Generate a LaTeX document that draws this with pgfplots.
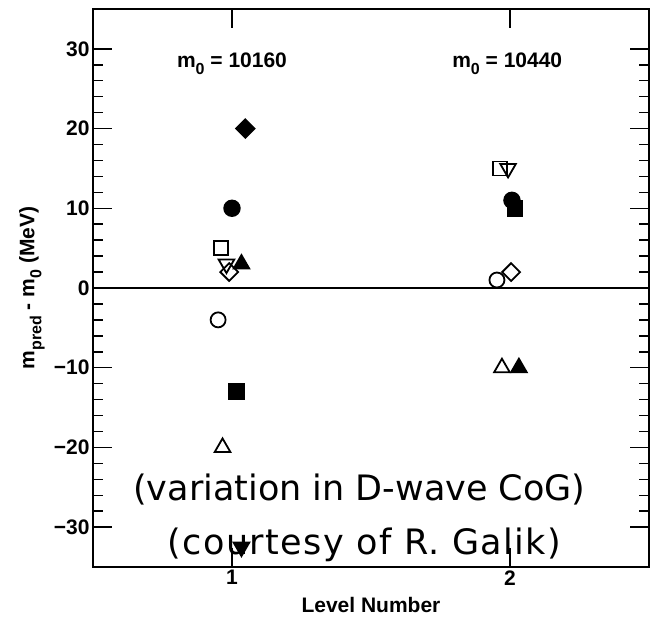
\documentclass[border=0pt]{standalone}
\usepackage{pgfplots}
\pgfplotsset{compat=1.18}
\usepackage{fontspec}
\setmainfont{Liberation Sans}
\newfontfamily\bigfont{DejaVu Sans}
\newcommand\hv{\fontsize{21}{21}\selectfont\bfseries}
\newcommand\sub[1]{\raisebox{-7pt}{\fontsize{16}{16}\selectfont\bfseries #1}}
\begin{document}
\begin{tikzpicture}
\useasboundingbox (0,0) rectangle (652pt,617pt);
\begin{axis}[
 at={(93pt,50pt)}, anchor=south west,
 scale only axis, width=556pt, height=558pt,
 xmin=0.5, xmax=2.5, ymin=-35, ymax=35,
 xtick={1,2}, xticklabels={1,2},
 ytick={-30,-20,-10,0,10,20,30},
 yticklabels={−30,−20,−10,0,10,20,30},
 minor y tick num=4,
 tick align=inside,
 major tick length=19pt, minor tick length=10pt,
 every tick/.style={black, line width=1.5pt},
 axis line style={line width=2pt},
 tick label style={font=\hv},
 label style={font=\hv},
 xlabel={Level Number},
 xlabel style={at={(axis description cs:0.5,-0.0824)}, anchor=base},
 ylabel={m\sub{pred} - m\sub{0} (MeV)},
 ylabel style={at={(axis description cs:-0.11,0.5)}, anchor=center},
 clip=false,
 every axis plot/.append style={black, line width=1.8pt},
]
\addplot[line width=1.5pt] coordinates {(0.5,0) (2.5,0)};
% filled diamond
\addplot[only marks, mark=square*, mark size=6.5pt, mark options={rotate=45, fill=black}] coordinates {(1.048,20)};
% filled circle
\addplot[only marks, mark=*, mark size=7.8pt, mark options={fill=black}] coordinates {(1.0,10) (2.007,11)};
% open square
\addplot[only marks, mark=square, mark size=7pt] coordinates {(0.96,5) (1.964,15)};
% open down triangle
\addplot[only marks, mark=triangle, mark size=9pt, mark options={rotate=180}] coordinates {(0.98,3) (1.993,15)};
% filled up triangle
\addplot[only marks, mark=triangle*, mark size=9pt, mark options={fill=black}] coordinates {(1.034,3) (2.032,-10)};
% open diamond
\addplot[only marks, mark=square, mark size=6.3pt, mark options={rotate=45}] coordinates {(0.99,2) (2.004,2)};
% open circle
\addplot[only marks, mark=o, mark size=7.5pt] coordinates {(0.95,-4) (1.953,1)};
% filled square
\addplot[only marks, mark=square*, mark size=7.5pt, mark options={fill=black}] coordinates {(1.016,-13) (2.018,10)};
% open up triangle
\addplot[only marks, mark=triangle, mark size=9pt] coordinates {(0.966,-20) (1.971,-10)};
% filled down triangle
\addplot[only marks, mark=triangle*, mark size=9pt, mark options={rotate=180, fill=black}] coordinates {(1.034,-32.5)};

\node[anchor=base, font=\hv] at (axis cs:1.0,27.7) {m\sub{0} = 10160};
\node[anchor=base, font=\hv] at (axis cs:1.99,27.7) {m\sub{0} = 10440};
\node[anchor=base, font=\bigfont\fontsize{35}{35}\selectfont] at (axis cs:1.458,-26.7) {(variation in D-wave CoG)};
\node[anchor=base, font=\bigfont\fontsize{35}{35}\selectfont\addfontfeatures{LetterSpace=4}] at (axis cs:1.476,-33.4) {(courtesy of R. Galik)};
\end{axis}
\end{tikzpicture}
\end{document}
